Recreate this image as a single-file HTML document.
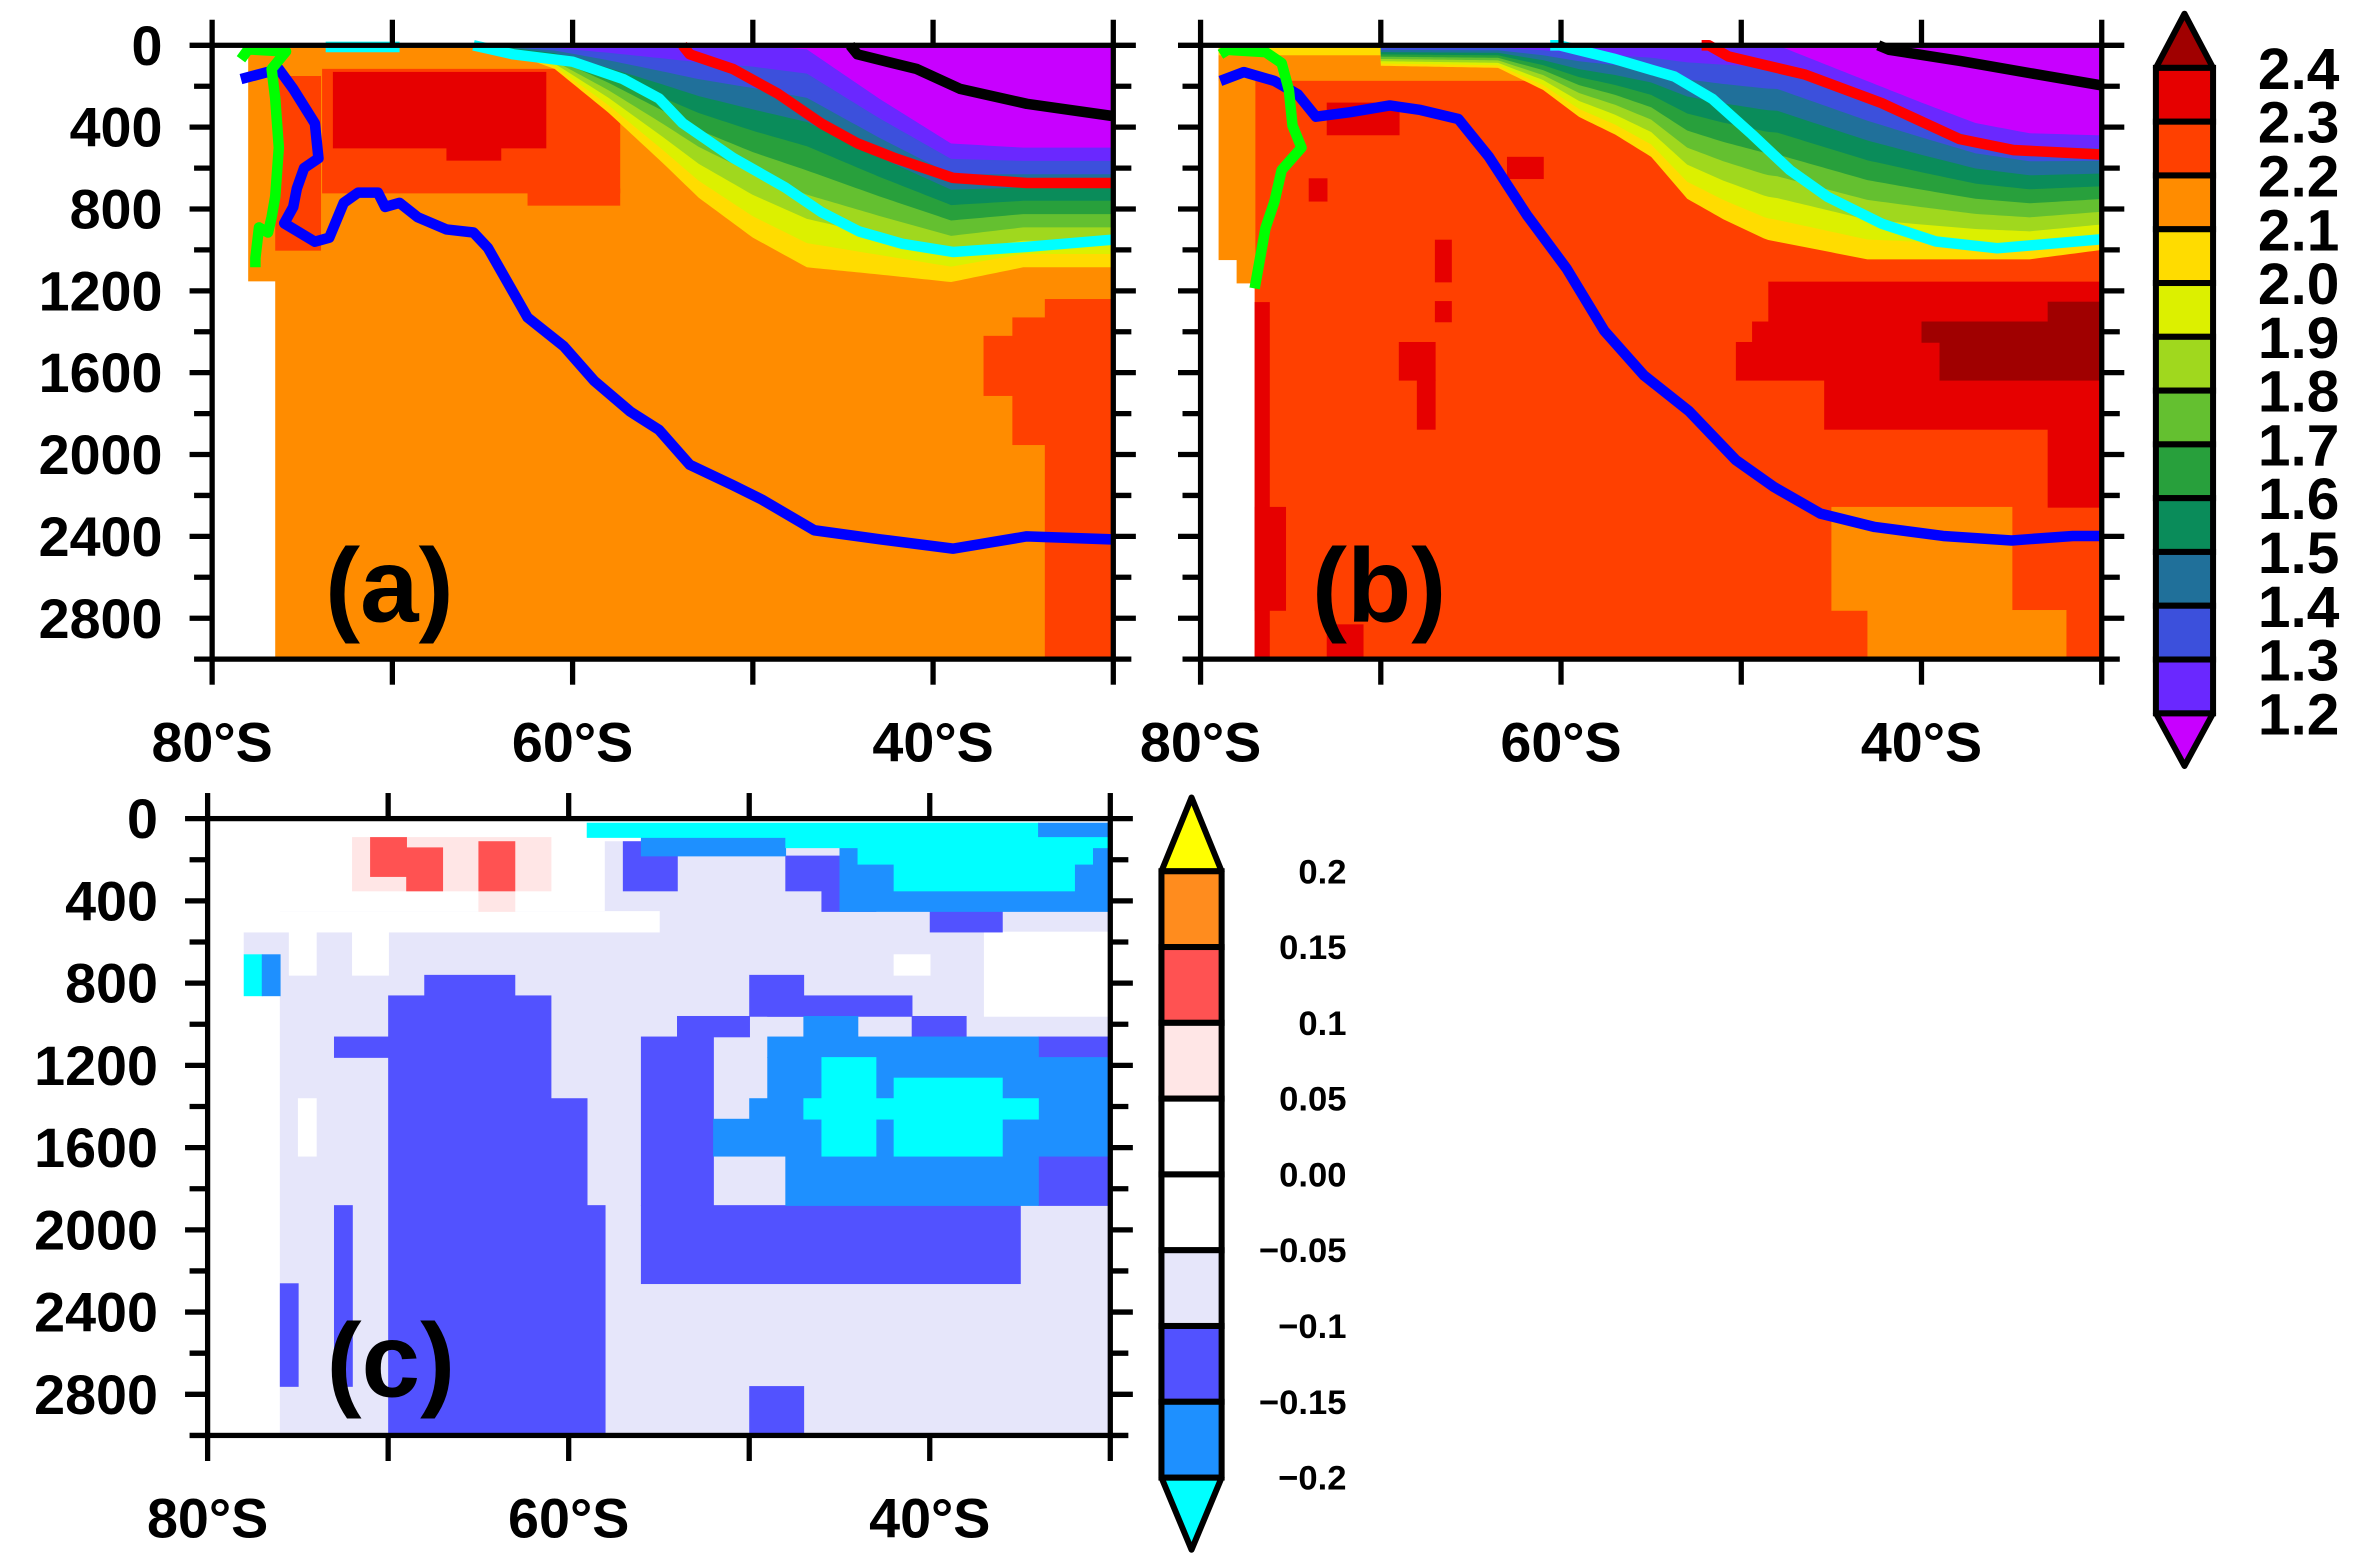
<!DOCTYPE html>
<html><head><meta charset="utf-8"><title>Ocean sections</title>
<style>html,body{margin:0;padding:0;background:#fff;}svg{display:block;}text{font-family:"Liberation Sans",sans-serif;font-weight:bold;fill:#000;}</style></head>
<body>
<svg id="fig" width="2359" height="1568" viewBox="0 0 1568 1042" xmlns="http://www.w3.org/2000/svg"></svg>
<script>
const NS='http://www.w3.org/2000/svg';
const svg=document.getElementById('fig');
// ---------- data ----------
const depthTicks=[0,400,800,1200,1600,2000,2400,2800];
const latTicks=[-80,-60,-40];
const latTickLabels=['80°S','60°S','40°S'];
const cbar1Labels=['2.4','2.3','2.2','2.1','2.0','1.9','1.8','1.7','1.6','1.5','1.4','1.3','1.2'];
const cbar1Colors=['#e60000','#ff4000','#ff8c00','#ffdc00','#dcf000','#a0d81e','#64c030','#28a03c','#0a8c5a','#20709a','#3c50dc','#6a28ff'];
const cbar2Labels=['0.2','0.15','0.1','0.05','0.00','−0.05','−0.1','−0.15','−0.2'];
const cbar2Colors=['#ff8c1e','#ff5252','#ffe6e6','#ffffff','#ffffff','#e6e6fa','#5252ff','#1e90ff'];
const bandColors=['#6a28ff','#3c50dc','#20709a','#0a8c5a','#28a03c','#64c030','#a0d81e','#dcf000','#ffdc00'];
// panel a fields
const aLayerLons=[-64,-61,-58,-55,-53,-50,-47,-43,-39,-35,-30];
const aYellowBottom=[20,115,330,575,745,940,1085,1120,1157,1085,1085];
const aPurpleBottom=[0,0,0,0,0,0,20,260,480,500,500];
const aRects=[[-76.5,-30,0,3000,'#ff8c00'],[-78,-76.5,0,1150,'#ff8c00'],[-73.9,-57.4,115,720,'#ff4000'],[-62.5,-57.4,700,780,'#ff4000'],[-76.5,-74,150,1000,'#ff4000'],[-73.3,-61.5,130,500,'#e60000'],[-67,-64,480,560,'#e60000'],[-33.8,-30,1240,3000,'#ff4000'],[-35.6,-33.8,1330,1950,'#ff4000'],[-37.2,-35.6,1420,1710,'#ff4000']];
const aBlue=[[-78.4,165],[-76.3,116],[-75.5,213],[-74.3,382],[-74.1,552],[-74.9,600],[-75.3,700],[-75.5,790],[-76,870],[-74.3,960],[-73.5,940],[-72.7,770],[-71.9,720],[-70.8,720],[-70.4,790],[-69.6,770],[-68.6,840],[-67,900],[-65.5,915],[-64.7,990],[-62.5,1330],[-60.5,1470],[-58.8,1640],[-56.8,1790],[-55.2,1880],[-53.5,2050],[-51.1,2150],[-49.5,2220],[-46.6,2370],[-42.9,2415],[-38.9,2460],[-34.8,2400],[-30,2415]];
const aCyan1=[[-73.7,8],[-69.6,8]];
const aCyan=[[-65.5,0],[-63.3,44],[-60,80],[-57.2,165],[-55.2,260],[-53.9,380],[-51.1,550],[-48.2,695],[-46.2,815],[-44.1,910],[-41.7,970],[-38.9,1010],[-34.8,985],[-30,950]];
const aRed=[[-53.9,0],[-53.5,44],[-51.1,116],[-48.6,237],[-46.2,382],[-44.2,479],[-42.1,552],[-38.9,648],[-34.8,673],[-30,673]];
const aBlack=[[-44.6,0],[-44.2,44],[-40.9,116],[-38.5,213],[-34.8,286],[-30,346]];
const aGreen=[[-78.4,68],[-78,20],[-75.9,30],[-76.7,116],[-76.5,260],[-76.3,500],[-76.5,740],[-76.7,840],[-76.9,915],[-77.4,890],[-77.6,1040],[-77.6,1085]];
// panel b fields
const bLayerLons=[-70,-63.5,-61,-59,-57,-55,-53,-51,-48.6,-43,-39,-34,-30];
const bYellowBottom=[100,110,218,350,436,545,750,850,950,1046,1046,1046,1000];
const bPurpleLons=[-48,-43,-40,-37,-34,-30];
const bPurpleBottom=[0,175,280,380,430,440];
const bRects=[[-77,-30,0,3000,'#ff4000'],[-79,-77,0,1046,'#ff8c00'],[-78,-77,1046,1160,'#ff8c00'],[-79,-62,0,170,'#ff8c00'],[-79,-63,0,45,'#ffdc00'],[-77,-76.2,1255,3000,'#e60000'],[-77,-75.3,2256,2760,'#e60000'],[-73,-71,2830,3000,'#e60000'],[-67,-66.1,950,1155,'#e60000'],[-67,-66.1,1250,1350,'#e60000'],[-69,-67,1450,1635,'#e60000'],[-68,-67,1635,1875,'#e60000'],[-63,-61,545,650,'#e60000'],[-73,-69,280,436,'#e60000'],[-74,-73,650,760,'#e60000'],[-48.5,-30,1155,1350,'#e60000'],[-49.4,-30,1350,1450,'#e60000'],[-50.3,-30,1450,1635,'#e60000'],[-45.4,-30,1635,1875,'#e60000'],[-33,-30,1875,2256,'#e60000'],[-33,-30,1253,1350,'#a00000'],[-40,-30,1350,1450,'#a00000'],[-39,-30,1450,1635,'#a00000'],[-45,-35,2256,2760,'#ff8c00'],[-43,-32,2760,3000,'#ff8c00']];
const bBlue=[[-78.9,174],[-77.6,131],[-75.9,174],[-74.6,240],[-73.6,349],[-71.7,327],[-69.5,294],[-67.8,316],[-65.7,360],[-64,545],[-61.9,829],[-59.7,1090],[-57.6,1395],[-55.4,1613],[-52.9,1788],[-50.3,2027],[-48.2,2158],[-45.6,2289],[-42.6,2354],[-38.8,2398],[-35,2420],[-31.6,2398],[-30,2398]];
const bCyan=[[-60.6,0],[-60.1,0],[-57.1,65],[-53.7,153],[-51.6,262],[-49.4,436],[-47.3,610],[-45.2,741],[-42.2,872],[-39.2,959],[-35.8,992],[-30,948]];
const bRed=[[-52.2,0],[-51.8,0],[-50.7,55],[-46.5,142],[-42.2,283],[-37.9,458],[-34.9,512],[-30,534]];
const bBlack=[[-42.4,0],[-41.8,22],[-37.9,76],[-33.6,142],[-30,196]];
const bGreen=[[-78.9,44],[-78.5,22],[-76.4,33],[-75.5,87],[-75.1,218],[-74.9,392],[-74.4,500],[-75.5,610],[-75.9,763],[-76.4,894],[-76.8,1090],[-77,1188]];
// panel c: [lon0, lon1, depth0, depth1, class]
const cRects=[
[-76,-30,450,3000,'L'],[-58,-30,110,450,'L'],[-78,-76,550,660,'L'],
[-75.5,-74,550,760,'W'],[-72,-70,550,760,'W'],[-42,-40,660,760,'W'],[-37,-30,550,960,'W'],[-75,-74,1360,1640,'W'],[-80,-55,450,550,'W'],
[-76,-75,2260,2760,'B'],
[-70,-61,860,3000,'B'],[-73,-70,1060,1160,'B'],[-73,-72,1880,2760,'B'],[-68,-63,760,860,'B'],[-61,-59,1360,1880,'B'],[-61,-58,1880,3000,'B'],
[-56,-35,1880,2260,'B'],[-56,-52,1060,1880,'B'],[-54,-50,960,1060,'B'],[-50,-47,760,960,'B'],[-49,-41,860,960,'B'],[-41,-38,960,1060,'B'],[-34,-30,1060,1160,'B'],[-34,-30,1640,1880,'B'],[-50,-47,2760,3000,'B'],
[-49,-34,1060,1160,'LB'],[-49,-30,1160,1360,'LB'],[-50,-30,1360,1460,'LB'],[-52,-30,1460,1640,'LB'],[-48,-34,1640,1880,'LB'],[-47,-44,960,1060,'LB'],
[-46,-43,1160,1640,'C'],[-42,-36,1260,1640,'C'],[-47,-34,1360,1460,'C'],
[-57,-54,110,350,'B'],[-48,-43,180,350,'B'],[-46,-43,350,450,'B'],[-40,-36,450,550,'B'],
[-56,-48,90,180,'LB'],[-45,-30,140,450,'LB'],[-59,-34,20,90,'C'],[-34,-30,20,90,'LB'],[-48,-30,90,140,'C'],[-44,-31,140,220,'C'],[-42,-32,220,350,'C'],
[-72,-61,90,350,'P'],[-65,-63,350,450,'P'],[-71,-69,90,280,'R'],[-69,-67,140,350,'R'],[-65,-63,110,350,'R'],
[-78,-77,660,860,'C'],[-77,-76,660,860,'LB']];
const cColors={L:'#e6e6fa',W:'#ffffff',B:'#5252ff',LB:'#1e90ff',C:'#00ffff',R:'#ff5252',P:'#ffe6e6'};
// ---------- helpers ----------
function el(tag,attrs,parent){const e=document.createElementNS(NS,tag);for(const k in attrs)e.setAttribute(k,attrs[k]);(parent||svg).appendChild(e);return e;}
function interp(xs,ys,x){if(x<=xs[0])return ys[0];if(x>=xs[xs.length-1])return ys[ys.length-1];for(let i=0;i<xs.length-1;i++){if(x>=xs[i]&&x<=xs[i+1]){const t=(x-xs[i])/(xs[i+1]-xs[i]);return ys[i]+t*(ys[i+1]-ys[i]);}}}
function makePanel(name,x0,x1,y0,y1){
  const g=el('g',{});
  
  
  const clip=el('clipPath',{id:'clip-'+name},g);
  el('rect',{x:x0,y:y0,width:x1-x0,height:y1-y0},clip);
  const plot=el('g',{'clip-path':'url(#clip-'+name+')'},g);
  
  
  return {g,plot,x:lon=>x0+(lon+80)/50*(x1-x0),y:d=>y0+d/3000*(y1-y0),x0,x1,y0,y1};
}
function drawRects(P,rects,colorOf){
  rects.forEach(r=>{const rc=el('rect',{x:P.x(r[0]),y:P.y(r[2]),width:P.x(r[1])-P.x(r[0])+0.5,height:P.y(r[3])-P.y(r[2])+0.5,fill:colorOf(r[4])},P.plot);
    
    });
}
function drawBands(P,lons,yb,plons,pb,lonStart){
  const xs=[];for(let l=lonStart;l<=-30.001;l+=0.25)xs.push(l);xs.push(-30);
  const pur=xs.map(l=>l<plons[0]?0:interp(plons,pb,l));
  const yel=xs.map(l=>Math.max(interp(lons,yb,l),0));
  for(let k=8;k>=0;k--){
    const f=(k+1)/9;
    let pts=xs.map((l,i)=>P.x(l)+','+P.y(0));
    const bottom=xs.map((l,i)=>P.x(l)+','+P.y(pur[i]+f*(yel[i]-pur[i])));
    const poly=el('polygon',{points:pts.concat(bottom.reverse()).join(' '),fill:bandColors[k]},P.plot);
    
    
  }
  const pp=xs.map((l,i)=>P.x(l)+','+P.y(0)).concat(xs.map((l,i)=>P.x(l)+','+P.y(pur[i])).reverse());
  const pu=el('polygon',{points:pp.join(' '),fill:'#c800ff'},P.plot);
  
  
}
function drawLine(P,pts,color,name){
  const l=el('polyline',{points:pts.map(p=>P.x(p[0])+','+P.y(p[1])).join(' '),fill:'none',stroke:color,'stroke-width':7,'stroke-linejoin':'round'},P.g);
  
  
}
function drawAxes(P,label,lx,ly,showY){
  const ax=el('g',{stroke:'#000','stroke-width':3.5},P.g);
  
  
  el('rect',{x:P.x0,y:P.y0,width:P.x1-P.x0,height:P.y1-P.y0,fill:'none'},ax);
  for(let d=0;d<=3000;d+=200){const y=P.y(d);const len=(d%400==0)?15:12;
    el('line',{x1:P.x0-len,y1:y,x2:P.x0,y2:y},ax);el('line',{x1:P.x1,y1:y,x2:P.x1+len,y2:y},ax);}
  for(let lon=-80;lon<=-30;lon+=10){const x=P.x(lon);
    el('line',{x1:x,y1:P.y0,x2:x,y2:P.y0-17},ax);el('line',{x1:x,y1:P.y1,x2:x,y2:P.y1+17},ax);}
  if(showY){
  depthTicks.forEach(d=>{const t=el('text',{x:P.x0-33,y:P.y(d)+13,'text-anchor':'end','font-size':37},P.g);t.textContent=d;
    
    });
  }
  latTicks.forEach((lon,i)=>{const t=el('text',{x:P.x(lon),y:P.y1+68,'text-anchor':'middle','font-size':37},P.g);t.textContent=latTickLabels[i];
    
    });
  const pl=el('text',{x:lx,y:ly,'font-size':70},P.g);pl.textContent=label;
  
  
}
// ---------- panel a ----------
const A=makePanel('panel-a',141,740,30,438);
drawRects(A,aRects,c=>c);
drawBands(A,aLayerLons,aYellowBottom,aLayerLons,aPurpleBottom,-64);
drawLine(A,aBlue,'#0000ff','line-blue-a');
drawLine(A,aCyan1,'#00ffff','line-cyan-a-short');
drawLine(A,aCyan,'#00ffff','line-cyan-a');
drawLine(A,aRed,'#ff0000','line-red-a');
drawLine(A,aBlack,'#000000','line-black-a');
drawLine(A,aGreen,'#00ff00','line-green-a');
drawAxes(A,'(a)',216,413,true);
// ---------- panel b ----------
const Bp=makePanel('panel-b',798,1397,30,438);
drawRects(Bp,bRects,c=>c);
drawBands(Bp,bLayerLons,bYellowBottom,bPurpleLons,bPurpleBottom,-70);
drawLine(Bp,bBlue,'#0000ff','line-blue-b');
drawLine(Bp,bCyan,'#00ffff','line-cyan-b');
drawLine(Bp,bRed,'#ff0000','line-red-b');
drawLine(Bp,bBlack,'#000000','line-black-b');
drawLine(Bp,bGreen,'#00ff00','line-green-b');
drawAxes(Bp,'(b)',872,413,false);
// ---------- panel c ----------
const Cp=makePanel('panel-c',138,738,544,954);
drawRects(Cp,cRects,c=>cColors[c]);
drawAxes(Cp,'(c)',217,928,true);
// ---------- colorbar 1 ----------
(function(){
  const g=el('g',{});
  
  
  const x0=1433,x1=1471,top=45,bot=474,step=(bot-top)/cbar1Colors.length;
  el('polygon',{points:`${x0},${top} ${(x0+x1)/2},9 ${x1},${top}`,fill:'#a00000',stroke:'#000','stroke-width':4,'stroke-linejoin':'round'},g);
  el('polygon',{points:`${x0},${bot} ${(x0+x1)/2},509 ${x1},${bot}`,fill:'#c800ff',stroke:'#000','stroke-width':4,'stroke-linejoin':'round'},g);
  cbar1Colors.forEach((c,i)=>{const r=el('rect',{x:x0,y:top+i*step,width:x1-x0,height:step,fill:c,stroke:'#000','stroke-width':4},g);
    
    });
  cbar1Labels.forEach((s,i)=>{const t=el('text',{x:1555,y:top+i*step+14,'text-anchor':'end','font-size':39},g);t.textContent=s;
    
    });
})();
// ---------- colorbar 2 ----------
(function(){
  const g=el('g',{});
  
  
  const x0=772,x1=812,top=579,bot=982,step=(bot-top)/cbar2Colors.length;
  el('polygon',{points:`${x0},${top} ${(x0+x1)/2},530 ${x1},${top}`,fill:'#ffff00',stroke:'#000','stroke-width':4,'stroke-linejoin':'round'},g);
  el('polygon',{points:`${x0},${bot} ${(x0+x1)/2},1030 ${x1},${bot}`,fill:'#00ffff',stroke:'#000','stroke-width':4,'stroke-linejoin':'round'},g);
  cbar2Colors.forEach((c,i)=>{const r=el('rect',{x:x0,y:top+i*step,width:x1-x0,height:step,fill:c,stroke:'#000','stroke-width':4},g);
    
    });
  cbar2Labels.forEach((s,i)=>{const t=el('text',{x:895,y:top+i*step+8,'text-anchor':'end','font-size':23},g);t.textContent=s;
    
    });
})();
</script>
</body></html>
